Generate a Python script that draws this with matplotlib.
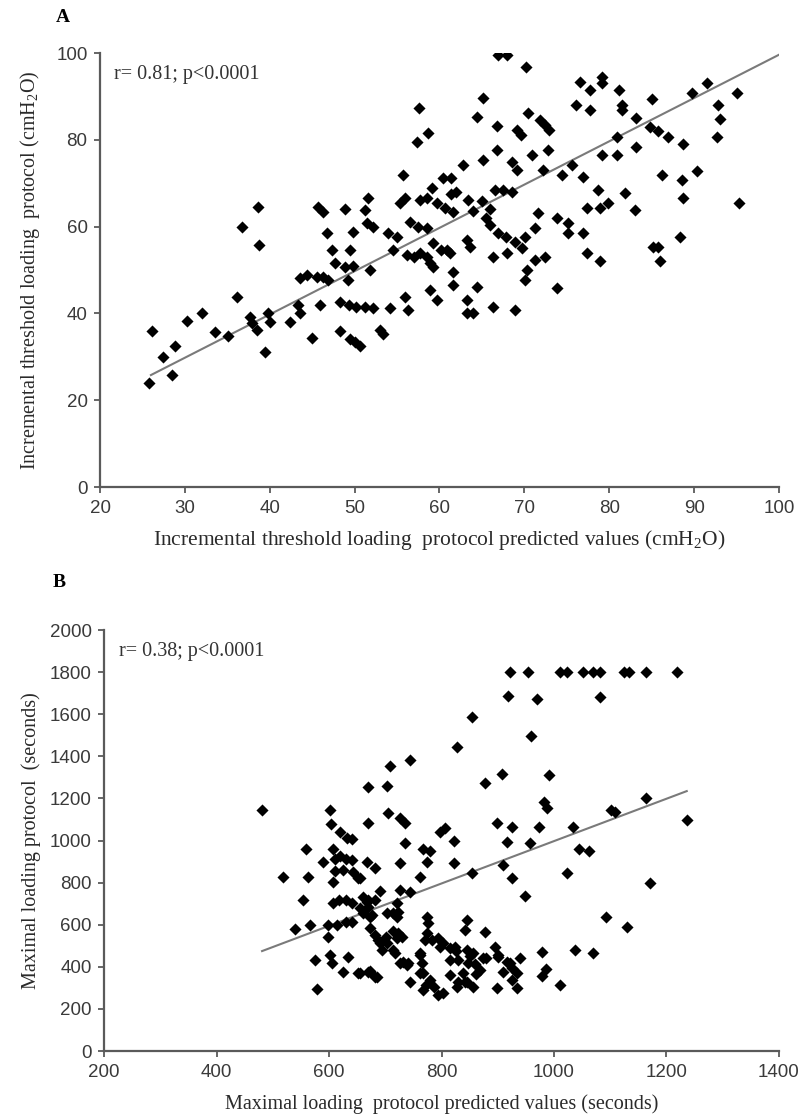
import numpy as np
import matplotlib.pyplot as plt

plt.rcParams['mathtext.fontset'] = 'custom'
plt.rcParams['mathtext.rm'] = 'Liberation Serif'
plt.rcParams['mathtext.it'] = 'Liberation Serif:italic'

# panel A: predicted vs measured (cmH2O)
pts_a = np.array([
    (25.8, 24), (26.1, 36), (27.4, 30), (28.5, 25.8), (28.8, 32.5), (30.2, 38.2), (32, 40.1),
    (33.5, 35.7), (35.1, 34.9), (36.1, 43.8), (36.7, 59.9), (37.7, 39.2), (37.9, 37.8), (38.5, 36.2),
    (38.6, 64.5), (38.7, 55.8), (39.4, 31.1), (39.8, 40.1), (40, 38), (42.4, 38), (43.3, 41.9),
    (43.6, 40.1), (43.6, 48.2), (44.4, 48.8), (45, 34.3), (45.6, 48.4), (45.7, 64.5), (45.9, 41.9),
    (46.3, 63.4), (46.3, 48.4), (46.7, 58.5), (46.9, 47.7), (47.3, 54.6), (47.7, 51.6), (48.3, 42.6),
    (48.3, 36), (48.9, 64.1), (48.9, 50.7), (49.2, 47.7), (49.4, 54.6), (49.5, 34), (49.8, 58.8),
    (49.8, 51), (49.3, 42), (50, 33.5), (50.2, 41.5), (50.6, 32.5), (51.2, 63.8), (51.2, 41.5),
    (51.4, 60.8), (51.6, 66.6), (51.8, 50), (52.2, 59.9), (52.2, 41.2), (53, 36.2), (53.3, 35.3),
    (53.9, 58.5), (54.2, 41.2), (54.5, 54.6), (55, 57.6), (55.3, 65.4), (55.7, 71.9), (55.9, 66.6),
    (55.9, 43.8), (56.3, 40.8), (56.5, 61), (56.2, 53.5), (57, 53), (57.3, 79.5), (57.6, 87.3),
    (57.7, 54), (57.7, 66.1), (57.5, 60), (58.5, 66.6), (58.5, 59.7), (58.5, 53), (58.6, 81.6),
    (58.9, 51.6), (58.9, 45.4), (59.1, 68.9), (59.2, 56.2), (59.2, 50.7), (59.7, 65.4), (59.7, 43.1),
    (60.2, 54.6), (60.4, 71.2), (60.6, 64.2), (60.9, 54.6), (61.4, 71.3), (61.2, 53.9), (61.6, 63.4),
    (61.6, 49.5), (61.6, 46.5), (61.3, 67.5), (62, 68), (62.8, 74.2), (63.2, 56.9), (63.2, 43.1),
    (63.2, 40.1), (63.6, 55.3), (63.3, 66.2), (63.9, 40.1), (64, 63.5), (64.4, 85.3), (64.4, 46.1),
    (65, 66), (65.1, 89.6), (65.1, 75.3), (65.5, 62), (65.9, 60.4), (66, 64), (66.3, 53), (66.3, 41.5),
    (66.5, 68.5), (66.8, 83.2), (66.8, 77.6), (66.9, 99.5), (66.9, 58.5), (67.5, 68.5), (67.9, 99.5),
    (67.9, 53.9), (67.8, 57.5), (68.5, 74.9), (68.5, 68), (68.9, 56.5), (68.9, 40.8), (69.1, 82.3),
    (69.1, 73), (69.6, 81), (69.7, 55.1), (70.1, 57.6), (70.1, 47.7), (70.2, 96.8), (70.3, 50),
    (70.4, 86.2), (70.9, 76.5), (71.2, 59.7), (71.2, 52.3), (71.6, 63.1), (71.8, 84.5), (72.2, 73),
    (72.4, 83.4), (72.4, 53), (72.9, 82.3), (72.8, 77.6), (73.8, 62), (73.8, 45.9), (74.4, 71.9),
    (75.1, 60.8), (75.1, 58.5), (75.6, 74.2), (76.1, 88), (76.5, 93.3), (76.9, 71.4), (76.9, 58.5),
    (77.4, 64.3), (77.4, 53.9), (77.7, 91.5), (77.7, 86.9), (78.7, 68.4), (78.9, 64.3), (78.9, 52.1),
    (79.1, 94.5), (79.2, 93), (79.2, 76.5), (79.8, 65.4), (80.9, 80.6), (80.9, 76.5), (81.2, 91.5),
    (81.5, 88), (81.5, 86.9), (81.8, 67.7), (83, 63.8), (83.2, 85), (83.2, 78.3), (84.8, 83),
    (85, 89.4), (85.1, 55.3), (85.7, 55.3), (85.7, 82), (86, 52.1), (86.2, 71.9), (86.9, 80.6),
    (88.3, 57.6), (88.6, 70.7), (88.7, 79), (88.7, 66.6), (89.7, 90.8), (90.3, 72.8), (91.5, 93),
    (92.7, 80.6), (92.8, 88), (93, 84.8), (95, 90.8), (95.3, 65.4),
])
fit_a_x = [26, 100]
fit_a_y = [25.8, 99.6]

# panel B: predicted vs measured (seconds)
pts_b = np.array([
    (921, 1800), (953, 1800), (1010, 1800), (1024, 1800), (1051, 1800), (1069, 1800), (1081, 1800),
    (1125, 1800), (1134, 1800), (1164, 1800), (1218, 1800),
    (918, 1686), (969, 1672), (1081, 1682), (854, 1587), (960, 1496), (827, 1444), (744, 1382),
    (708, 1354), (669, 1254), (703, 1259), (907, 1316), (877, 1273), (992, 1311), (983, 1183),
    (987, 1155), (481, 1145), (601, 1145), (704, 1131), (726, 1107), (735, 1083), (669, 1083),
    (603, 1078), (797, 1040), (806, 1059), (898, 1083), (925, 1064), (974, 1064), (1033, 1064),
    (1102, 1145), (1108, 1136), (1163, 1202), (1236, 1097),
    (559, 960), (607, 960), (619, 1040), (632, 1012), (640, 1007), (735, 988), (767, 960), (779, 950),
    (823, 998), (916, 993), (957, 988), (1045, 960), (1063, 950),
    (589, 898), (610, 912), (620, 925), (630, 913), (640, 907), (667, 898), (681, 869), (726, 893),
    (774, 898), (823, 893), (625, 860), (642, 850), (651, 822), (655, 822), (761, 827), (854, 846),
    (909, 884), (925, 822), (1024, 846), (1170, 798),
    (518, 827), (562, 827), (610, 855), (607, 803), (948, 736), (690, 760), (726, 765), (744, 755),
    (554, 717), (607, 703), (617, 717), (630, 717), (640, 703), (660, 731), (670, 717), (681, 717),
    (667, 708), (720, 703), (655, 679), (660, 656), (669, 684), (676, 646), (703, 656), (722, 660),
    (713, 656), (720, 637),
    (539, 580), (566, 599), (598, 599), (614, 599), (598, 542), (631, 613), (640, 613), (672, 637),
    (672, 584), (681, 551), (690, 513), (703, 513), (702, 542), (713, 570), (720, 536), (687, 527),
    (694, 480), (713, 480), (717, 466), (722, 561), (729, 542),
    (774, 637), (776, 608), (774, 561), (770, 527), (783, 527), (797, 494), (793, 537), (802, 513),
    (815, 489), (824, 494), (826, 475), (845, 622), (841, 575), (877, 565), (845, 480), (856, 466),
    (873, 442), (847, 418), (815, 432), (829, 432), (850, 451), (859, 413), (862, 366), (838, 370),
    (841, 328),
    (895, 494), (900, 456), (900, 447), (921, 418), (909, 375), (925, 337), (916, 423), (925, 394),
    (939, 442), (935, 370),
    (978, 470), (985, 388), (978, 355), (1010, 314), (1037, 480), (1070, 466), (1093, 637), (1129, 589),
    (898, 299), (934, 299), (731, 423), (740, 418), (726, 418), (738, 409), (761, 466), (761, 456),
    (765, 418), (761, 370), (767, 370),
    (744, 328), (767, 290), (779, 337), (802, 276), (794, 266), (786, 305), (773, 315), (827, 304),
    (845, 328), (856, 304), (815, 361), (830, 330), (868, 385), (880, 442),
    (655, 370), (669, 375), (681, 352), (575, 432), (601, 456), (605, 418), (633, 446), (625, 375),
    (651, 370), (672, 380), (685, 352), (578, 295),
])
fit_b_x = [481, 1236]
fit_b_y = [475, 1235]

a_xticks = [20, 30, 40, 50, 60, 70, 80, 90, 100]
a_yticks = [0, 20, 40, 60, 80, 100]
b_xticks = [200, 400, 600, 800, 1000, 1200, 1400]
b_yticks = [0, 200, 400, 600, 800, 1000, 1200, 1400, 1600, 1800, 2000]

serif = 'Liberation Serif'
tick_font = 'Liberation Sans'
axis_grey = '#5a5a5a'

fig = plt.figure(figsize=(8.02, 11.16), dpi=100)
ax_a = fig.add_axes([0.1247, 0.5636, 0.8466, 0.3889])
ax_b = fig.add_axes([0.1297, 0.0582, 0.8416, 0.3772])


def style(ax, xt, yt):
    for s in ['top', 'right']:
        ax.spines[s].set_visible(False)
    for s in ['left', 'bottom']:
        ax.spines[s].set_color(axis_grey)
        ax.spines[s].set_linewidth(1.6)
    ax.set_xticks(xt)
    ax.set_yticks(yt)
    ax.set_xlim(xt[0], xt[-1])
    ax.set_ylim(yt[0], yt[-1])
    ax.tick_params(direction='out', length=4, width=1.3, color=axis_grey,
                   labelcolor='#3a3a3a', labelsize=13.5, pad=5)
    for lab in ax.get_xticklabels() + ax.get_yticklabels():
        lab.set_family(tick_font)


ax_a.scatter(pts_a[:, 0], pts_a[:, 1], marker='D', s=38, color='black', zorder=3, linewidths=0)
ax_a.plot(fit_a_x, fit_a_y, color='#7a7a7a', lw=1.5, zorder=2)
style(ax_a, a_xticks, a_yticks)
ax_a.set_xlabel('Incremental threshold loading  protocol predicted values (cmH$_2$O)',
                family=serif, fontsize=15.5, color='#2a2a2a', labelpad=8)
ax_a.set_ylabel('Incremental threshold loading  protocol (cmH$_2$O)',
                family=serif, fontsize=14.5, color='#2a2a2a', labelpad=10)
ax_a.text(0.02, 0.95, 'r= 0.81; p<0.0001', transform=ax_a.transAxes, family=serif,
          fontsize=14.5, color='#333333', va='center')

ax_b.scatter(pts_b[:, 0], pts_b[:, 1], marker='D', s=38, color='black', zorder=3, linewidths=0)
ax_b.plot(fit_b_x, fit_b_y, color='#7a7a7a', lw=1.5, zorder=2)
style(ax_b, b_xticks, b_yticks)
ax_b.set_xlabel('Maximal loading  protocol predicted values (seconds)',
                family=serif, fontsize=14.5, color='#2a2a2a', labelpad=10)
ax_b.set_ylabel('Maximal loading protocol  (seconds)',
                family=serif, fontsize=14.5, color='#2a2a2a', labelpad=6)
ax_b.text(0.022, 0.95, 'r= 0.38; p<0.0001', transform=ax_b.transAxes, family=serif,
          fontsize=14.5, color='#333333', va='center')

fig.text(0.069, 0.984, 'A', family=serif, fontsize=14, fontweight='bold', va='center')
fig.text(0.066, 0.478, 'B', family=serif, fontsize=14, fontweight='bold', va='center')

fig.savefig('out.png', dpi=100, facecolor='white')
